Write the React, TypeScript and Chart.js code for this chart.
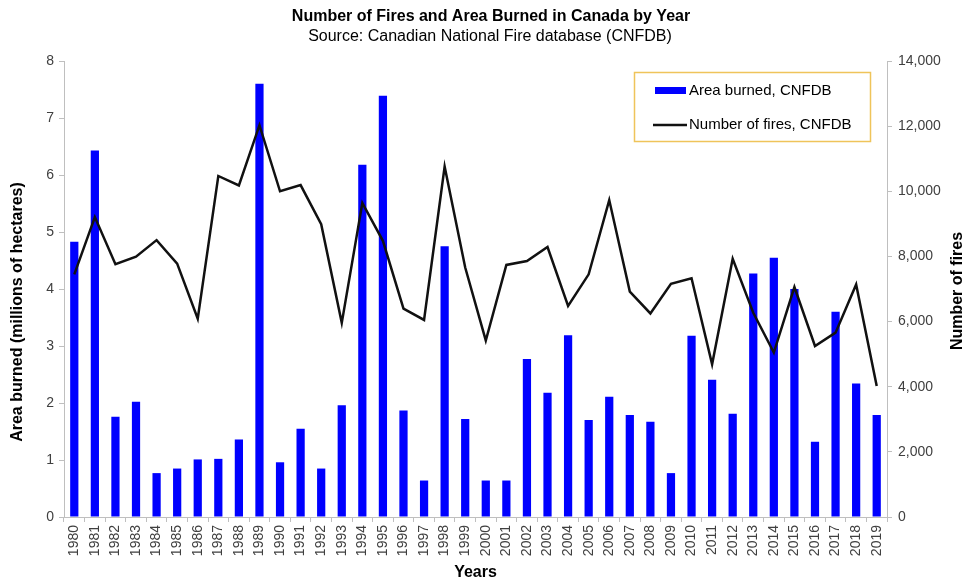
import React, { useEffect, useRef } from "react";
import { Chart, registerables } from "chart.js";

Chart.register(...registerables);

const years: string[] = [
  "1980","1981","1982","1983","1984","1985","1986","1987","1988","1989",
  "1990","1991","1992","1993","1994","1995","1996","1997","1998","1999",
  "2000","2001","2002","2003","2004","2005","2006","2007","2008","2009",
  "2010","2011","2012","2013","2014","2015","2016","2017","2018","2019",
];

const areaBurned: number[] = [
  4.83, 6.43, 1.76, 2.02, 0.77, 0.85, 1.01, 1.02, 1.36, 7.6,
  0.96, 1.55, 0.85, 1.96, 6.18, 7.39, 1.87, 0.64, 4.75, 1.72,
  0.64, 0.64, 2.77, 2.18, 3.19, 1.7, 2.11, 1.79, 1.67, 0.77,
  3.18, 2.41, 1.81, 4.27, 4.55, 4.0, 1.32, 3.6, 2.34, 1.79,
];

const numberOfFires: number[] = [
  7450, 9210, 7760, 7990, 8500, 7780, 6090, 10470, 10180, 12030,
  10000, 10190, 8990, 5960, 9640, 8480, 6400, 6050, 10760, 7660,
  5420, 7740, 7860, 8290, 6480, 7450, 9730, 6920, 6250, 7160,
  7330, 4690, 7930, 6270, 5050, 7060, 5250, 5660, 7140, 4020,
];

const titleText = "Number of Fires and Area Burned in Canada by Year";
const subtitleText = "Source: Canadian National Fire database (CNFDB)";
const leftAxisTitle = "Area burned (millions of hectares)";
const rightAxisTitle = "Number of fires";
const xAxisTitle = "Years";
const barLabel = "Area burned, CNFDB";
const lineLabel = "Number of fires, CNFDB";

const FONT = "'Liberation Sans', Arial, sans-serif";
const TEXT = "#404040";
const AXIS = "#BFBFBF";

const decor = {
  id: "decor",
  afterDraw(chart: any) {
    const ctx = chart.ctx as CanvasRenderingContext2D;
    const ca = chart.chartArea;
    ctx.save();
    ctx.fillStyle = "#000";
    ctx.textAlign = "center";
    ctx.textBaseline = "middle";
    ctx.font = `bold 16px ${FONT}`;
    ctx.fillText(titleText, 491, 17);
    ctx.font = `16px ${FONT}`;
    ctx.fillText(subtitleText, 490, 37);

    // axis titles
    ctx.font = `bold 16px ${FONT}`;
    ctx.save();
    ctx.translate(18, 312);
    ctx.rotate(-Math.PI / 2);
    ctx.fillText(leftAxisTitle, 0, 0);
    ctx.restore();
    ctx.save();
    ctx.translate(958, 291);
    ctx.rotate(-Math.PI / 2);
    ctx.fillText(rightAxisTitle, 0, 0);
    ctx.restore();
    ctx.fillText(xAxisTitle, (ca.left + ca.right) / 2, 573);

    // legend
    ctx.strokeStyle = "#EFC45A";
    ctx.lineWidth = 1.5;
    ctx.strokeRect(634.5, 72.5, 236, 69);
    ctx.fillStyle = "#0000FF";
    ctx.fillRect(655, 87, 31, 7);
    ctx.strokeStyle = "#111";
    ctx.lineWidth = 2.5;
    ctx.beginPath();
    ctx.moveTo(653, 125);
    ctx.lineTo(687, 125);
    ctx.stroke();
    ctx.fillStyle = "#000";
    ctx.textAlign = "left";
    ctx.font = `15px ${FONT}`;
    ctx.fillText(barLabel, 689, 91);
    ctx.fillText(lineLabel, 689, 125);
    ctx.restore();
  },
};

export default function App() {
  const ref = useRef<HTMLCanvasElement | null>(null);
  useEffect(() => {
    if (!ref.current) return;
    const chart = new Chart(ref.current, {
      type: "bar",
      data: {
        labels: years,
        datasets: [
          {
            type: "line",
            label: lineLabel,
            data: numberOfFires,
            yAxisID: "y1",
            borderColor: "#111",
            borderWidth: 2.5,
            pointRadius: 0,
            tension: 0,
            order: 0,
          } as any,
          {
            type: "bar",
            label: barLabel,
            data: areaBurned,
            yAxisID: "y",
            backgroundColor: "#0000FF",
            barPercentage: 0.4,
            categoryPercentage: 1.0,
            order: 1,
          },
        ],
      },
      options: {
        responsive: false,
        maintainAspectRatio: false,
        animation: false,
        layout: { padding: { top: 61, left: 0, right: 0, bottom: 0 } },
        plugins: {
          legend: { display: false },
          title: { display: false },
          tooltip: { enabled: false },
        },
        scales: {
          x: {
            grid: {
              display: true,
              drawOnChartArea: false,
              drawTicks: true,
              tickLength: 5,
              color: AXIS,
              offset: true,
            },
            border: { display: true, color: AXIS },
            ticks: {
              autoSkip: false,
              maxRotation: 90,
              minRotation: 90,
              color: TEXT,
              font: { family: FONT, size: 14 },
              padding: 3,
            },
            afterFit(scale: any) {
              scale.height = 65;
            },
          },
          y: {
            position: "left",
            min: 0,
            max: 8,
            ticks: {
              stepSize: 1,
              color: TEXT,
              font: { family: FONT, size: 14 },
              padding: 5,
            },
            grid: {
              drawOnChartArea: false,
              drawTicks: true,
              tickLength: 5,
              color: AXIS,
            },
            border: { display: true, color: AXIS },
            afterFit(scale: any) {
              scale.width = 64;
            },
          },
          y1: {
            position: "right",
            min: 0,
            max: 14000,
            ticks: {
              stepSize: 2000,
              color: TEXT,
              font: { family: FONT, size: 14 },
              padding: 6,
              callback: (v: any) => Number(v).toLocaleString("en-US"),
            },
            grid: {
              drawOnChartArea: false,
              drawTicks: true,
              tickLength: 5,
              color: AXIS,
            },
            border: { display: true, color: AXIS },
            afterFit(scale: any) {
              scale.width = 80;
            },
          },
        },
      },
      plugins: [decor],
    });
    return () => chart.destroy();
  }, []);
  return (
    <div style={{ position: "fixed", left: 0, top: 0, width: 967, height: 582, background: "#fff" }}>
      <canvas ref={ref} width={967} height={582} style={{ display: "block" }} />
    </div>
  );
}
